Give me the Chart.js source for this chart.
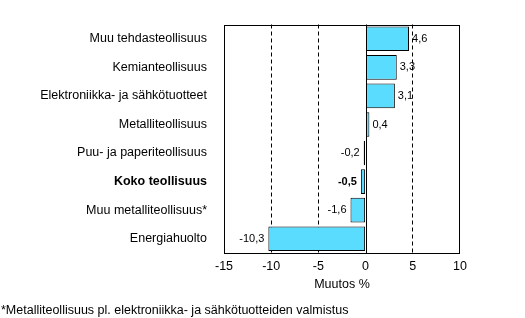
<!DOCTYPE html>
<html>
<head>
<meta charset="utf-8">
<script src="https://cdn.jsdelivr.net/npm/chart.js@4/dist/chart.umd.min.js"></script>
<style>
  body { margin: 0; background: #fff; }
  #wrap { position: relative; width: 525px; height: 318px; }
  #note { position: absolute; left: 1px; top: 303px; font: 12.5px "Liberation Sans", Arial, sans-serif; color: #000; white-space: nowrap; }
</style>
</head>
<body>
<div id="wrap">
  <canvas id="chart" width="525" height="318"></canvas>
  <div id="note">*Metalliteollisuus pl. elektroniikka- ja sähkötuotteiden valmistus</div>
</div>
<script>
const categories = [
  'Muu tehdasteollisuus',
  'Kemianteollisuus',
  'Elektroniikka- ja sähkötuotteet',
  'Metalliteollisuus',
  'Puu- ja paperiteollisuus',
  'Koko teollisuus',
  'Muu metalliteollisuus*',
  'Energiahuolto'
];
const changes = [4.6, 3.3, 3.1, 0.4, -0.2, -0.5, -1.6, -10.3];
const boldIndex = 5;
const xTicks = [-15, -10, -5, 0, 5, 10];

const fontFamily = '"Liberation Sans", Arial, sans-serif';

// frame, solid zero line and value labels
const extras = {
  id: 'extras',
  beforeDatasetsDraw(chart) {
    const { ctx, chartArea: a, scales: { x } } = chart;
    ctx.save();
    ctx.strokeStyle = '#000';
    ctx.lineWidth = 1;
    const zx = Math.round(x.getPixelForValue(0)) + 0.5;
    ctx.beginPath();
    ctx.moveTo(zx, a.top);
    ctx.lineTo(zx, a.bottom);
    ctx.stroke();
    ctx.restore();
  },
  afterDatasetsDraw(chart) {
    const { ctx, chartArea: a } = chart;
    ctx.save();
    ctx.strokeStyle = '#000';
    ctx.lineWidth = 1;
    ctx.strokeRect(Math.round(a.left) + 0.5, Math.round(a.top) + 0.5,
      Math.round(a.right - a.left) - 1, Math.round(a.bottom - a.top) - 1);

    const meta = chart.getDatasetMeta(0);
    ctx.fillStyle = '#000';
    ctx.textBaseline = 'middle';
    meta.data.forEach((bar, i) => {
      const v = changes[i];
      const txt = v.toFixed(1).replace('.', ',');
      ctx.font = (i === boldIndex ? 'bold ' : '') + '11px ' + fontFamily;
      if (v >= 0) {
        ctx.textAlign = 'left';
        ctx.fillText(txt, bar.x + 3, bar.y);
      } else {
        ctx.textAlign = 'right';
        ctx.fillText(txt, bar.x - 4, bar.y);
      }
    });
    ctx.restore();
  }
};

new Chart(document.getElementById('chart'), {
  type: 'bar',
  data: {
    labels: categories,
    datasets: [{
      data: changes,
      backgroundColor: '#5adcff',
      borderColor: '#000',
      borderWidth: 1,
      borderSkipped: false,
      barPercentage: 0.86,
      categoryPercentage: 1
    }]
  },
  options: {
    indexAxis: 'y',
    responsive: false,
    animation: false,
    layout: { padding: { top: 1, right: 65, bottom: 26, left: 0 } },
    plugins: { legend: { display: false }, tooltip: { enabled: false } },
    scales: {
      x: {
        min: -15,
        max: 10,
        afterBuildTicks(scale) { scale.ticks = xTicks.map(v => ({ value: v })); },
        afterFit(scale) { scale.height = 39; },
        grid: {
          drawTicks: false,
          color: c => (c.tick && [-10, -5, 5].includes(c.tick.value)) ? '#000' : 'rgba(0,0,0,0)',
          lineWidth: 1
        },
        border: { display: false, dash: [4, 3] },
        ticks: {
          padding: 6,
          color: '#000',
          font: { family: fontFamily, size: 12.5 }
        },
        title: {
          display: true,
          text: 'Muutos %',
          color: '#000',
          padding: 0,
          font: { family: fontFamily, size: 12.5 }
        }
      },
      y: {
        afterFit(scale) { scale.width = 224; },
        grid: { display: false, drawTicks: false },
        border: { display: false },
        ticks: {
          padding: 17,
          color: '#000',
          font: c => ({ family: fontFamily, size: 12.5, weight: c.index === boldIndex ? 'bold' : 'normal' })
        }
      }
    }
  },
  plugins: [extras]
});
</script>
</body>
</html>
